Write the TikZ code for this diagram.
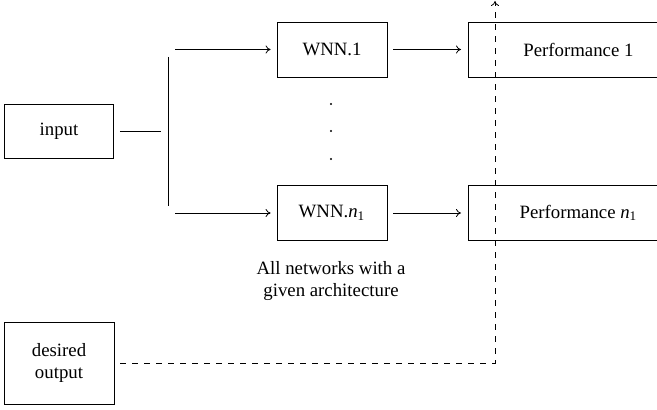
\documentclass[tikz,border=0pt]{standalone}
\usepackage{fontspec}
\setmainfont{Liberation Serif}
\newfontfamily\serifnode{Liberation Serif}
\usepackage{tikz}
\usetikzlibrary{arrows.meta}

\tikzset{
  box/.style={draw, minimum width=55pt, minimum height=27.5pt, inner sep=2pt},
  perfbox/.style={draw, minimum width=110pt, minimum height=27.5pt, inner sep=2pt},
  every node/.style={font=\serifnode\fontsize{9.4}{11.2}\selectfont},
}

\begin{document}
\begin{tikzpicture}[x=0.5pt, y=-0.5pt, >={To[length=2.5pt,width=4pt]}]
        \useasboundingbox (0,0) rectangle (657,410);

        % entrada
        \node[box, minimum width=54.5pt, minimum height=27pt] (input) at (59,131) {input};
        \coordinate (split) at (168,131);
        \coordinate (bartop) at (168,57);
        \coordinate (barbot) at (168,206);
        \coordinate (fan1) at (175,49.5);
        \coordinate (fan2) at (175,213);

        \draw[shorten <=3pt, shorten >=3.5pt] (input) -- (split);
        \draw (bartop) -- (barbot);

        % redes
        \node[box] (wnn1) at (332,49.5) {WNN.1};
        \node[box] (wnnn) at (332,213) {WNN.\textit{n}\textsubscript{1}};

        \draw[->, shorten >=3pt] (fan1) -- (wnn1.west);
        \draw[->, shorten >=3pt] (fan2) -- (wnnn.west);

        \foreach \y in {104,131,159}
          \fill (331,\y) circle (0.6pt);

        % desempenho
        \node[perfbox, anchor=west] (perf1) at (468,49.5) {Performance 1};
        \node[perfbox, anchor=west] (perfn) at (468,213) {Performance \textit{n}\textsubscript{1}};

        \draw[->, shorten <=3pt, shorten >=3.5pt] (wnn1) -- (perf1);
        \draw[->, shorten <=3pt, shorten >=3.5pt] (wnnn) -- (perfn);

        \node[align=center] (arch) at (331,281) {All networks with a\\given architecture};

        % saida desejada
        \node[box, minimum height=41pt, align=center] (desired) at (59,363) {desired\\output};
        \coordinate (top) at (495,1);
        \draw[dashed, ->, shorten <=3pt] (desired.east) -| (top);
\end{tikzpicture}
\end{document}
